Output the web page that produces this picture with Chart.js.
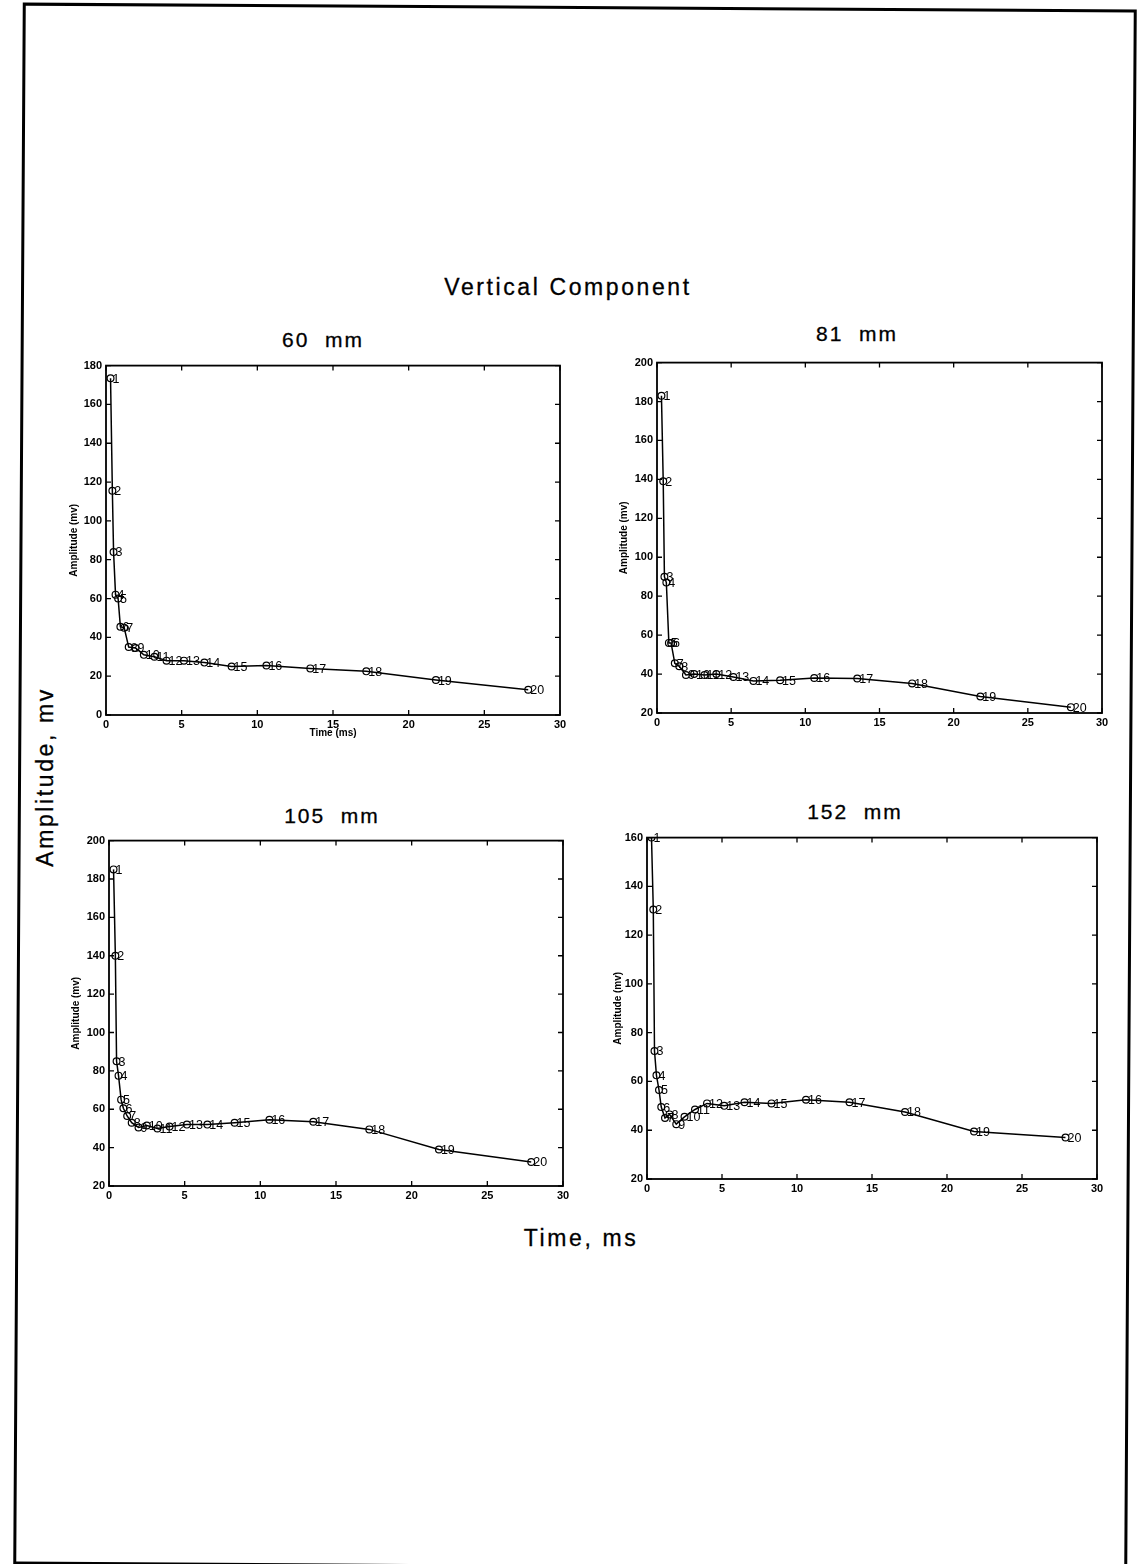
<!DOCTYPE html>
<html>
<head>
<meta charset="utf-8">
<script src="https://cdn.jsdelivr.net/npm/chart.js@4"></script>
<style>
    body { margin: 0; background: #fff; }
    #page { position: relative; width: 1144px; height: 1564px; overflow: hidden; background: #fff; }
    .border { position: absolute; left: 18px; top: 6px; width: 1108px; height: 1556px; border: 3px solid #000; transform: rotate(0.35deg); }
    .txt { position: absolute; font-family: "Liberation Sans", Arial, sans-serif; color: #000; white-space: pre; text-align: center; -webkit-text-stroke: 0.3px #000; }
    .big { font-size: 23px; line-height: 23px; letter-spacing: 2.6px; }
    .sub { font-size: 21px; line-height: 21px; letter-spacing: 2px; width: 300px; }
    canvas { position: absolute; }
</style>
</head>
<body>
<div id="page">
    <div class="border"></div>

    <div class="txt big" style="left: 368px; top: 276px; width: 400px;">Vertical Component</div>
    <div class="txt sub" style="left: 173px; top: 329px;">60  mm</div>
    <div class="txt sub" style="left: 707px; top: 323px;">81  mm</div>
    <div class="txt sub" style="left: 182px; top: 805px;">105  mm</div>
    <div class="txt sub" style="left: 705px; top: 801px;">152  mm</div>
    <div class="txt big" style="left: 481px; top: 1227px; width: 200px;">Time, ms</div>
    <div class="txt big" style="left: 45px; top: 777px; transform: translate(-50%, -50%) rotate(-90deg);">Amplitude, mv</div>

    <canvas id="p60" width="514" height="392" style="left: 56px; top: 355px;"></canvas>
    <canvas id="p81" width="505" height="393" style="left: 607px; top: 352px;"></canvas>
    <canvas id="p105" width="514" height="388" style="left: 59px; top: 830px;"></canvas>
    <canvas id="p152" width="510" height="384" style="left: 597px; top: 827px;"></canvas>
</div>

<script>
// sample times (ms), shared by all four gauges
const times = [0.3, 0.42, 0.5, 0.63, 0.8, 0.95, 1.2, 1.5, 1.95, 2.5, 3.2, 4.0, 5.15, 6.5, 8.3, 10.6, 13.5, 17.2, 21.8, 27.9];

const amp60 = [173.5, 115.5, 84, 62, 60, 45.5, 45, 35, 34.5, 31, 30, 28, 28, 27, 25, 25.5, 24, 22.5, 18, 13];
const amp81 = [183, 139, 90, 87, 56, 56, 45.5, 44, 39.5, 40, 39.5, 40, 38.5, 36.5, 36.8, 38, 37.7, 35.2, 28.5, 23];
const amp105 = [185, 140, 85, 77.5, 65, 60.5, 56.5, 53, 50.5, 51.5, 50, 51, 52, 52, 53, 54.5, 53.5, 49.5, 39, 32.5];
const amp152 = [160, 130.5, 72.5, 62.5, 56.5, 49.5, 45, 46.5, 42.5, 45.5, 48.5, 51, 50, 51.5, 51, 52.5, 51.5, 47.5, 39.5, 37];

const FONT = '"Liberation Sans", Arial, sans-serif';

// matlab style box with inward ticks on all four sides, plus point numbers
const matlabBox = {
    id: 'matlabBox',
    afterDatasetsDraw(chart) {
        const {ctx, chartArea: a, scales: {x, y}} = chart;
        const len = 5;

        ctx.save();
        ctx.strokeStyle = '#000';
        ctx.lineWidth = 1.8;
        ctx.strokeRect(a.left, a.top, a.right - a.left, a.bottom - a.top);

        ctx.lineWidth = 1.3;
        ctx.beginPath();
        x.ticks.forEach(t => {
            let px = x.getPixelForValue(t.value);
            ctx.moveTo(px, a.bottom);
            ctx.lineTo(px, a.bottom - len);
            ctx.moveTo(px, a.top);
            ctx.lineTo(px, a.top + len);
        });
        y.ticks.forEach(t => {
            let py = y.getPixelForValue(t.value);
            ctx.moveTo(a.left, py);
            ctx.lineTo(a.left + len, py);
            ctx.moveTo(a.right, py);
            ctx.lineTo(a.right - len, py);
        });
        ctx.stroke();

        ctx.fillStyle = '#000';
        ctx.font = '12.5px ' + FONT;
        ctx.textAlign = 'left';
        ctx.textBaseline = 'middle';
        chart.getDatasetMeta(0).data.forEach((pt, i) => {
            ctx.fillText(String(i + 1), pt.x + 2, pt.y + 1);
        });
        ctx.restore();
    }
};

function makePanel(id, values, yMin, yMax, yTitleGap, showXTitle) {
    return new Chart(document.getElementById(id), {
        type: 'scatter',
        data: {
            datasets: [{
                data: times.map((t, i) => ({x: t, y: values[i]})),
                showLine: true,
                tension: 0,
                borderColor: '#000',
                borderWidth: 1.5,
                pointRadius: 3.4,
                pointBorderWidth: 1.2,
                pointBorderColor: '#000',
                pointBackgroundColor: 'rgba(0,0,0,0)',
            }]
        },
        options: {
            responsive: false,
            animation: false,
            devicePixelRatio: 1,
            layout: {
                padding: {left: 0, right: 10, top: 10, bottom: 0}
            },
            plugins: {
                legend: {display: false},
                tooltip: {enabled: false},
            },
            scales: {
                x: {
                    type: 'linear',
                    min: 0,
                    max: 30,
                    grid: {display: false, drawTicks: false},
                    border: {display: false},
                    ticks: {
                        stepSize: 5,
                        padding: 3,
                        color: '#000',
                        maxRotation: 0,
                        font: {family: FONT, size: 11, weight: 'bold'},
                    },
                    title: {
                        display: showXTitle,
                        text: 'Time (ms)',
                        color: '#000',
                        padding: {top: 0, bottom: 8},
                        font: {family: FONT, size: 10, weight: 'bold'},
                    },
                    afterFit(scale) {
                        scale.height = 32;
                    }
                },
                y: {
                    type: 'linear',
                    min: yMin,
                    max: yMax,
                    grid: {display: false, drawTicks: false},
                    border: {display: false},
                    ticks: {
                        stepSize: 20,
                        padding: 4,
                        color: '#000',
                        font: {family: FONT, size: 11, weight: 'bold'},
                    },
                    title: {
                        display: true,
                        text: 'Amplitude (mv)',
                        color: '#000',
                        padding: {top: yTitleGap, bottom: 0},
                        font: {family: FONT, size: 10, weight: 'bold'},
                    },
                    afterFit(scale) {
                        scale.width = 50;
                    }
                }
            }
        },
        plugins: [matlabBox]
    });
}

makePanel('p60', amp60, 0, 180, 12, true);
makePanel('p81', amp81, 20, 200, 11, false);
makePanel('p105', amp105, 20, 200, 11, false);
makePanel('p152', amp152, 20, 160, 15, false);
</script>
</body>
</html>
